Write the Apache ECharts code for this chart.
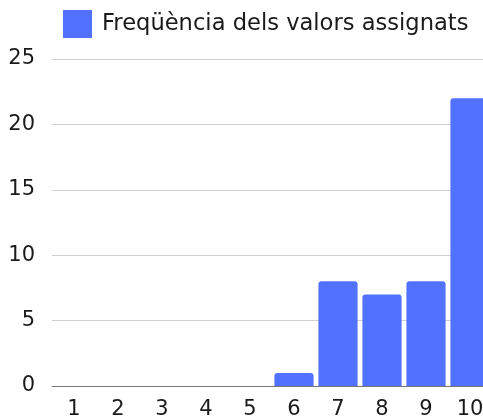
<!DOCTYPE html>
<html>
<head>
<meta charset="utf-8">
<script src="https://cdn.jsdelivr.net/npm/echarts@6/dist/echarts.min.js"></script>
<style>
  html, body { margin: 0; padding: 0; background: #fff; }
  #chart { width: 483px; height: 419px; }
</style>
</head>
<body>
<div id="chart"></div>
<script>
const categories = ["1", "2", "3", "4", "5", "6", "7", "8", "9", "10"];
const frequencies = [0, 0, 0, 0, 0, 1, 8, 7, 8, 22];
const seriesName = "Freqüència dels valors assignats";

const myChart = echarts.init(document.getElementById("chart"));
const fontFamily = "DejaVu Sans";

const option = {
  animation: false,
  legend: {
    top: 10,
    left: 63,
    padding: 0,
    itemWidth: 29,
    itemHeight: 28,
    itemGap: 9,
    icon: "rect",
    textStyle: {
      color: "#1a1a1a",
      fontSize: 22.6,
      fontFamily: fontFamily,
      padding: [0, 0, 0, 5]
    },
    data: [seriesName]
  },
  // 网格向右延伸出画布，最后一根柱子被截断
  grid: {
    left: 52,
    width: 440,
    top: 59,
    bottom: 33,
    containLabel: false,
    outerBoundsMode: "none"
  },
  xAxis: {
    type: "category",
    data: categories,
    axisTick: { show: false },
    axisLine: { lineStyle: { color: "#777", width: 1 } },
    axisLabel: { color: "#1a1a1a", fontSize: 21, fontFamily: fontFamily, margin: 13 }
  },
  yAxis: {
    type: "value",
    min: 0,
    max: 25,
    interval: 5,
    axisLabel: { color: "#1a1a1a", fontSize: 21, fontFamily: fontFamily, margin: 17 },
    splitLine: { lineStyle: { color: "#d0d0d0" } }
  },
  series: [{
    name: seriesName,
    type: "bar",
    data: frequencies,
    barCategoryGap: "11%",
    itemStyle: { color: "#5271ff", borderRadius: [3, 3, 0, 0] }
  }]
};

myChart.setOption(option);
</script>
</body>
</html>
